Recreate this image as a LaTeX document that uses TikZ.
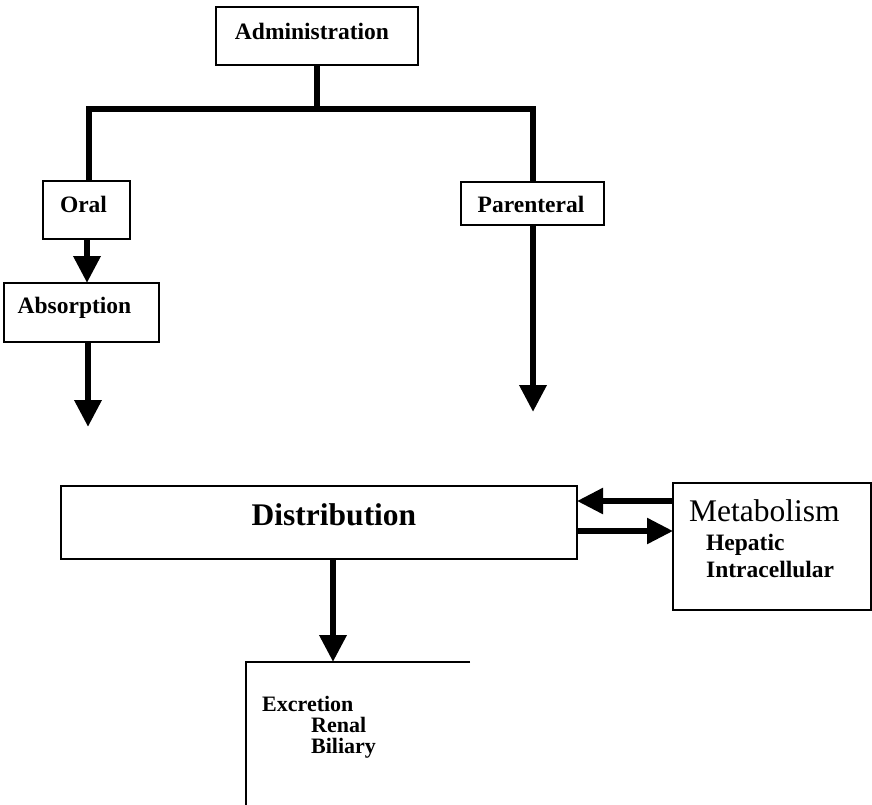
\documentclass[tikz,border=0pt]{standalone}
\usepackage{fontspec}
\setmainfont{Liberation Serif}
\usetikzlibrary{arrows.meta}
\begin{document}
\begin{tikzpicture}[x=1pt,y=-1pt,
  box/.style={draw=black,line width=1.2pt,fill=white,inner sep=0pt,outer sep=0pt},
  lbl/.style={inner sep=0pt,anchor=base,font=\fontsize{23.5}{28}\selectfont\bfseries},
  smalllbl/.style={inner sep=0pt,anchor=base west,font=\fontsize{22}{24}\selectfont\bfseries},
  biglbl/.style={inner sep=0pt,anchor=base,font=\fontsize{31.5}{36}\selectfont\bfseries},
  bar/.style={line width=6.5pt,line join=miter,line cap=butt},
  flow/.style={bar,-{Triangle[width=26pt,length=27pt]}},
  sideflow/.style={line width=5.5pt,-{Triangle[width=25pt,length=26pt]}}]
\useasboundingbox (0,0) rectangle (872,804);
\fill[white] (0,0) rectangle (872,804);

% boxes
\node[box,minimum width=202pt,minimum height=58pt] (adm) at (317,36) {};
\node[lbl] (admt) at (312,39) {Administration};

\node[box,minimum width=87pt,minimum height=58pt] (oral) at (86.5,210) {};
\node[lbl] (oralt) at (83.5,212) {Oral};

\node[box,minimum width=155pt,minimum height=59pt] (abs) at (81.5,312.5) {};
\node[lbl] (abst) at (74.5,313) {Absorption};

\node[box,minimum width=143pt,minimum height=43pt] (par) at (532.5,203.5) {};
\node[lbl] (part) at (531,212) {Parenteral};

\node[box,minimum width=516pt,minimum height=73pt] (dist) at (319,522.5) {};
\node[biglbl] (distt) at (334,525) {Distribution};

\node[box,minimum width=198pt,minimum height=127pt] (met) at (772,546.5) {};
\node[inner sep=0pt,anchor=base west,font=\fontsize{31.5}{36}\selectfont] (mett) at (689,521) {Metabolism};
\node[lbl,anchor=base west] (hep) at (706,550) {Hepatic};
\node[lbl,anchor=base west] (intra) at (706,577) {Intracellular};

% excretion box: open at the right, runs off the bottom
\node[inner sep=0pt,outer sep=0pt,minimum width=224pt,minimum height=150pt] (exc) at (358,737) {};
\draw[line width=1.2pt] (exc.north east) -- (exc.north west) -- (exc.south west);
\node[smalllbl] (exct) at (262,711) {Excretion};
\node[smalllbl] (ren) at (311,732) {Renal};
\node[smalllbl] (bil) at (311,753) {Biliary};

% branching from administration
\coordinate (split) at (317,109);
\draw[bar] (adm.south) -- (split);
\draw[bar] (oral.north -| 89,0) -- (89,109) -- (533,109) -- (par.north -| 533,0);

% oral route
\draw[flow] (oral.south -| 87,0) -- (abs.north -| 87,0);
\coordinate (absend) at (88,427);
\draw[flow] (abs.south -| absend) -- (absend);

% parenteral route
\coordinate (parend) at (533,412);
\draw[flow] (par.south -| parend) -- (parend);

% metabolism exchange
\draw[sideflow] (met.west |- 0,501) -- (dist.east |- 0,501);
\draw[sideflow] (dist.east |- 0,531) -- (met.west |- 0,531);

% elimination
\draw[flow] (dist.south -| 333,0) -- (exc.north -| 333,0);
\end{tikzpicture}
\end{document}
